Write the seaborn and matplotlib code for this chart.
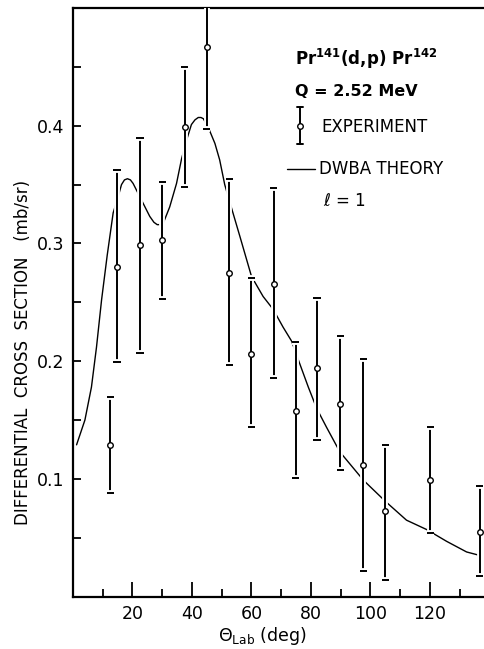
import matplotlib
matplotlib.use("Agg")
import matplotlib.pyplot as plt
import matplotlib.patheffects as pe
from matplotlib.lines import Line2D
from matplotlib.ticker import FixedLocator
import numpy as np
import pandas as pd
import seaborn as sns

# Measured differential cross sections, Pr141(d,p)Pr142, Q = 2.52 MeV
exp_angle = [12.5, 14.8, 22.5, 30.0, 37.5, 45.0, 52.5, 60.0, 67.4, 74.9, 82.0, 89.9, 97.6, 105.0, 120.1, 136.7]
exp_value = [0.129, 0.280, 0.299, 0.303, 0.399, 0.467, 0.275, 0.206, 0.266, 0.158, 0.194, 0.164, 0.112, 0.073, 0.099, 0.055]
exp_high = [0.170, 0.362, 0.390, 0.352, 0.450, 0.530, 0.355, 0.271, 0.347, 0.216, 0.254, 0.221, 0.202, 0.129, 0.144, 0.094]
exp_low = [0.088, 0.199, 0.207, 0.253, 0.348, 0.397, 0.197, 0.144, 0.186, 0.101, 0.133, 0.108, 0.022, 0.014, 0.054, 0.018]

# DWBA prediction, l = 1
theory_angle = [1.2, 4.0, 6.2, 7.9, 9.6, 11.5, 13.5, 15.2, 16.3, 17.3, 18.3, 19.3, 20.2, 22.2, 23.6, 25.8,
                27.2, 28.3, 29.3, 30.3, 32.5, 34.8, 36.5, 38.2, 39.8, 41.0, 42.1, 43.0, 43.8, 45.4,
                47.7, 49.3, 51.0, 53.3, 56.1, 60.0, 63.9, 67.3, 70.6, 73.5, 76.2, 79.1, 81.9, 85.2,
                89.7, 97.6, 105.0, 112.1, 118.9, 125.6, 132.3, 136.8]
theory_value = [0.129, 0.150, 0.178, 0.212, 0.252, 0.290, 0.326, 0.340, 0.350, 0.354, 0.355, 0.354,
                0.351, 0.341, 0.334, 0.323, 0.318, 0.316, 0.316, 0.317, 0.331, 0.351, 0.372, 0.388,
                0.401, 0.405, 0.407, 0.407, 0.406, 0.399, 0.385, 0.371, 0.350, 0.330, 0.306, 0.272,
                0.255, 0.244, 0.229, 0.217, 0.198, 0.178, 0.160, 0.144, 0.123, 0.099, 0.081, 0.065,
                0.057, 0.047, 0.038, 0.035]

x_major = [20, 40, 60, 80, 100, 120]
x_minor = [10, 30, 50, 70, 90, 110, 130]
y_major = [0.1, 0.2, 0.3, 0.4]
y_minor = [0.05, 0.15, 0.25, 0.35, 0.45]

sns.set_style("white")
plt.rcParams["font.family"] = ["DejaVu Sans"]
plt.rcParams["mathtext.fontset"] = "dejavusans"
plt.rcParams["text.color"] = "black"
plt.rcParams["axes.labelcolor"] = "black"
plt.rcParams["xtick.color"] = "black"
plt.rcParams["ytick.color"] = "black"

W, H = 485, 649
fig = plt.figure(figsize=(W / 100, H / 100), dpi=100)


def fx(px):
    return px / W


def fy(py):
    return 1 - py / H


ax = fig.add_axes([fx(73), 52.3 / H, 416.5 / W, 588.7 / H])

theory = pd.DataFrame({"angle": theory_angle, "xsec": theory_value})
sns.lineplot(data=theory, x="angle", y="xsec", ax=ax, color="black",
             linewidth=1.0, estimator=None, sort=False, zorder=2)

val = np.array(exp_value)
yerr = [val - np.array(exp_low), np.array(exp_high) - val]
cont = ax.errorbar(exp_angle, exp_value, yerr=yerr, fmt="none", ecolor="black",
                   elinewidth=1.4, capsize=2.6, capthick=1.4, zorder=3)
halo = [pe.Stroke(linewidth=4.2, foreground="white"), pe.Normal()]
for col in cont.lines[2]:
    col.set_path_effects(halo)
for cap in cont.lines[1]:
    cap.set_path_effects(halo)

exp_df = pd.DataFrame({"angle": exp_angle, "xsec": exp_value})
sns.scatterplot(data=exp_df, x="angle", y="xsec", ax=ax, marker="o", s=16,
                facecolor="white", edgecolor="black", linewidth=1.0, zorder=4)

ax.set_xlim(0, 140)
ax.set_ylim(0, 0.5)
ax.xaxis.set_major_locator(FixedLocator(x_major))
ax.xaxis.set_minor_locator(FixedLocator(x_minor))
ax.yaxis.set_major_locator(FixedLocator(y_major))
ax.yaxis.set_minor_locator(FixedLocator(y_minor))
ax.set_xticklabels([str(v) for v in x_major])
ax.set_yticklabels([f"{v:.1f}" for v in y_major])
ax.tick_params(axis="x", which="major", direction="in", length=11, width=1.3,
               labelsize=12.5, pad=6, bottom=True)
ax.tick_params(axis="x", which="minor", direction="in", length=6, width=1.3, bottom=True)
ax.tick_params(axis="y", which="major", direction="in", length=6, width=1.3,
               labelsize=12.5, pad=6, left=True)
ax.tick_params(axis="y", which="minor", direction="in", length=6, width=1.3, left=True)
for side in ("left", "bottom", "top"):
    ax.spines[side].set_linewidth(1.6)
    ax.spines[side].set_color("black")
ax.spines["right"].set_visible(False)
ax.set_xlabel("")
ax.set_ylabel("")

fig.text(fx(23), fy(352), "DIFFERENTIAL  CROSS  SECTION   (mb/sr)", rotation=90,
         ha="center", va="center", fontsize=12)
fig.text(fx(262), fy(636), r"$\Theta_{\mathrm{Lab}}$ (deg)", ha="center", va="center",
         fontsize=12.5)

# Key
fig.text(fx(295), fy(65), r"Pr$^{\mathbf{141}}$(d,p) Pr$^{\mathbf{142}}$", fontsize=12,
         fontweight="bold", ha="left", va="baseline")
fig.text(fx(295), fy(96), "Q = 2.52 MeV", fontsize=11.5, fontweight="bold",
         ha="left", va="baseline")
fig.text(fx(321), fy(127), "EXPERIMENT", fontsize=12, ha="left", va="center")
fig.text(fx(319), fy(169.5), "DWBA THEORY", fontsize=12, ha="left", va="center")
fig.text(fx(323), fy(201), r"$\ell$ = 1", fontsize=12, ha="left", va="center")

tf = fig.transFigure
key_x = fx(300)
fig.add_artist(Line2D([key_x, key_x], [fy(107), fy(144)], color="black", lw=1.4, transform=tf))
for py in (107, 144):
    fig.add_artist(Line2D([fx(296.5), fx(303.5)], [fy(py), fy(py)], color="black", lw=1.4,
                          transform=tf))
fig.add_artist(Line2D([key_x], [fy(126)], marker="o", ms=4, mfc="white", mec="black",
                      mew=1.0, lw=0, transform=tf))
fig.add_artist(Line2D([fx(287), fx(315)], [fy(169.5), fy(169.5)], color="black", lw=1.0,
                      transform=tf))

fig.savefig("out.png", dpi=100, facecolor="white")
